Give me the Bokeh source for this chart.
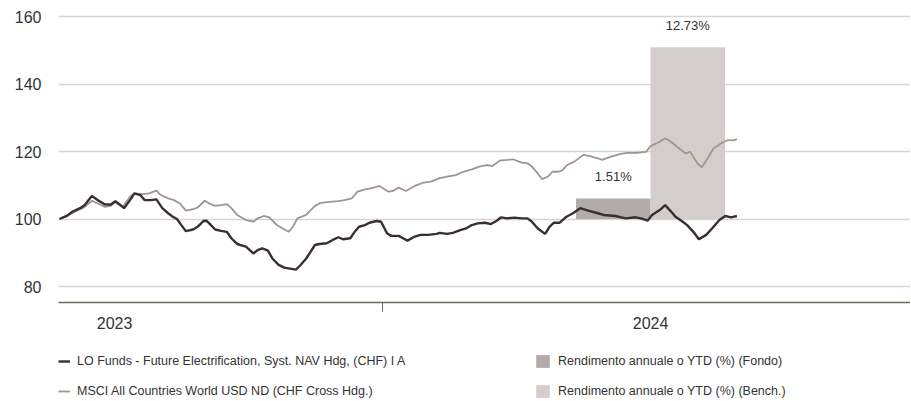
import datetime as dt
from bokeh.plotting import figure
from bokeh.layouts import column
from bokeh.models import FixedTicker, Legend, LegendItem, Range1d, ColumnDataSource
from bokeh.core.properties import value
from bokeh.embed import file_html
from bokeh.resources import INLINE

# ---------------- data ----------------
start_date = "2023-05-26"

fund_days = [0, 5, 9, 14, 17, 22, 26, 31, 35, 38, 41, 44, 48, 51, 55, 58, 62, 66, 70, 74,
             77, 80, 83, 86, 91, 94, 98, 100, 102, 106, 110, 114, 117, 121, 123, 127, 132, 135,
             138, 142, 145, 149, 153, 157, 161, 164, 168, 174, 177, 182, 186, 190, 193, 198,
             201, 204, 208, 211, 216, 219, 223, 226, 231, 234, 237, 242, 246, 251, 257, 259,
             264, 268, 273, 277, 281, 285, 290, 294, 298, 301, 305, 310, 315, 319, 322, 326,
             331, 334, 337, 341, 345, 350, 355, 361, 367, 371, 379, 386, 393, 398, 401, 404,
             410, 413, 417, 420, 425, 428, 433, 436, 441, 445, 450, 454, 458, 462]
fund_values = [100.0, 100.9, 102.2, 103.2, 104.1, 106.8, 105.6, 104.3, 104.3, 105.3, 104.3,
               103.2, 105.6, 107.6, 107.1, 105.6, 105.6, 105.8, 103.2, 101.7, 100.7, 100.0,
               98.2, 96.4, 96.9, 97.7, 99.4, 99.5, 98.7, 96.9, 96.5, 96.2, 94.3, 92.6, 92.3,
               91.8, 89.8, 90.8, 91.3, 90.6, 88.3, 86.5, 85.6, 85.3, 85.0, 86.3, 88.3, 92.3,
               92.6, 92.8, 93.8, 94.6, 94.0, 94.3, 96.2, 97.7, 98.2, 98.9, 99.4, 99.2, 95.8,
               95.0, 95.0, 94.3, 93.6, 94.8, 95.3, 95.3, 95.6, 95.9, 95.6, 95.9, 96.7, 97.2,
               98.2, 98.7, 98.9, 98.5, 99.5, 100.5, 100.2, 100.4, 100.2, 100.2, 99.2, 97.2,
               95.6, 97.7, 98.9, 98.9, 100.5, 101.7, 103.2, 102.4, 101.7, 101.2, 100.9, 100.2,
               100.5, 100.0, 99.5, 101.2, 102.9, 104.1, 102.2, 100.7, 99.2, 98.2, 95.8, 94.0,
               95.3, 97.2, 99.7, 100.9, 100.5, 100.9]

bench_days = [0, 9, 17, 22, 26, 31, 35, 38, 43, 48, 51, 57, 61, 66, 69, 74, 78, 82, 86, 91,
              94, 99, 102, 106, 110, 114, 117, 121, 127, 132, 135, 139, 143, 148, 152, 156,
              159, 162, 168, 174, 178, 184, 190, 194, 199, 203, 208, 212, 218, 224, 227, 231,
              236, 242, 248, 253, 259, 265, 270, 275, 281, 286, 291, 295, 300, 305, 309, 315,
              319, 322, 326, 329, 333, 336, 340, 343, 346, 351, 357, 361, 367, 370, 376, 382,
              387, 393, 400, 403, 408, 413, 417, 421, 427, 430, 435, 438, 442, 446, 451, 456,
              460, 462]
bench_values = [100.0, 101.9, 103.5, 105.4, 104.6, 103.6, 103.9, 105.0, 103.6, 106.6, 107.6,
                107.4, 107.6, 108.4, 107.1, 106.1, 105.6, 104.6, 102.5, 102.9, 103.4, 105.4,
                104.6, 103.9, 104.1, 104.4, 103.2, 101.2, 99.7, 99.2, 100.2, 100.9, 100.5,
                98.2, 97.2, 96.2, 97.7, 100.2, 101.2, 103.9, 104.8, 105.1, 105.3, 105.6, 106.1,
                108.1, 108.8, 109.1, 109.8, 108.1, 108.3, 109.3, 108.3, 109.8, 110.8, 111.1,
                112.1, 112.6, 113.0, 114.0, 114.7, 115.5, 116.0, 115.7, 117.3, 117.5, 117.7,
                116.7, 116.5, 115.5, 113.5, 111.8, 112.6, 114.0, 114.0, 114.5, 116.0, 117.0,
                119.0, 118.7, 118.0, 117.5, 118.5, 119.2, 119.6, 119.6, 119.9, 121.6, 122.6,
                123.9, 122.9, 121.4, 119.4, 119.9, 116.5, 115.3, 118.0, 120.9, 122.4, 123.4,
                123.3, 123.7]

ytd_year = 2024
ytd_returns = [1.51, 12.73]          # Fondo, Bench.
ytd_labels = ["1.51%", "12.73%"]
ytd_base = 100
ytd_scale = 4                        # index points per percent

y_ticks = [80, 100, 120, 140, 160]
year_ticks = [2023, 2024]

fund_name = "LO Funds - Future Electrification, Syst. NAV Hdg, (CHF) I A"
bench_name = "MSCI All Countries World USD ND (CHF Cross Hdg.)"
bar_fund_name = "Rendimento annuale o YTD (%) (Fondo)"
bar_bench_name = "Rendimento annuale o YTD (%) (Bench.)"

# ---------------- helpers ----------------
def frac_year(d):
    y0 = dt.date(d.year, 1, 1)
    n = (dt.date(d.year + 1, 1, 1) - y0).days
    return d.year + (d - y0).days / n

d0 = dt.date.fromisoformat(start_date)
fund_x = [frac_year(d0 + dt.timedelta(days=k)) for k in fund_days]
bench_x = [frac_year(d0 + dt.timedelta(days=k)) for k in bench_days]

# ---------------- colours / fonts ----------------
C_FUND = "#3a2f30"
C_BENCH = "#a0958f"
C_BAR_FUND = "#b1abaa"
C_BAR_BENCH = "#d3cecb"
C_TEXT = "#333333"
C_AXIS = "#6a6a5a"
FONT = "Liberation Sans"

W = 910
p = figure(width=W, height=337, output_backend="svg", toolbar_location=None,
           title=None,
           x_range=Range1d(fund_x[0] - 1 / 536, 2024.985),
           y_range=Range1d(75.26, 162.67),
           min_border_left=58, min_border_right=0, min_border_top=7,
           min_border_bottom=35)
p.outline_line_color = None
p.background_fill_color = "white"
p.border_fill_color = "white"

# bars (YTD)
bw = 0.139
mid = ytd_year + 0.5
bar_src = ColumnDataSource(dict(
    top=[ytd_base + ytd_scale * r for r in ytd_returns],
    xc=[mid - bw / 2, mid + bw / 2],
    lab=ytd_labels,
))
bar_f = dict(left=[mid - bw], right=[mid], bottom=[ytd_base],
             top=[ytd_base + ytd_scale * ytd_returns[0]])
bar_b = dict(left=[mid], right=[mid + bw], bottom=[ytd_base],
             top=[ytd_base + ytd_scale * ytd_returns[1]])
p.quad(**bar_f, fill_color=C_BAR_FUND, line_color=None)
p.quad(**bar_b, fill_color=C_BAR_BENCH, line_color=None)
p.text(x="xc", y="top", text="lab", source=bar_src, text_align="center",
       text_baseline="middle", y_offset=-22, text_font=value(FONT),
       text_font_size="13px", text_color=C_TEXT)

# lines
p.line(bench_x, bench_values, line_color=C_BENCH, line_width=1.8)
p.line(fund_x, fund_values, line_color=C_FUND, line_width=2.4)

# axes
xa = p.xaxis[0]
xa.ticker = FixedTicker(ticks=[y + 0.5 for y in year_ticks],
                        minor_ticks=[y + 1 for y in year_ticks])
xa.major_label_overrides = {y + 0.5: str(y) for y in year_ticks}
xa.major_tick_line_color = None
xa.major_tick_out = 0
xa.major_tick_in = 0
xa.minor_tick_out = 9
xa.minor_tick_in = 0
xa.minor_tick_line_color = C_AXIS
xa.minor_tick_line_width = 1
xa.axis_line_color = C_AXIS
xa.axis_line_width = 1.5
xa.major_label_standoff = 5
xa.major_label_text_font = FONT
xa.major_label_text_font_size = "16px"
xa.major_label_text_color = C_TEXT

ya = p.yaxis[0]
ya.ticker = FixedTicker(ticks=y_ticks)
ya.axis_line_color = None
ya.major_tick_line_color = None
ya.minor_tick_line_color = None
ya.major_tick_out = 0
ya.major_tick_in = 0
ya.major_label_standoff = 17
ya.major_label_text_font = FONT
ya.major_label_text_font_size = "16px"
ya.major_label_text_color = C_TEXT

p.xgrid.grid_line_color = None
p.ygrid.grid_line_color = "#d6d6d6"
p.ygrid.grid_line_width = 1.5

# ---------------- legend strip ----------------
lf = figure(width=W, height=62, output_backend="svg", toolbar_location=None,
            title=None, x_range=Range1d(0, 1), y_range=Range1d(0, 1),
            x_axis_type=None, y_axis_type=None,
            min_border_left=0, min_border_right=0, min_border_top=0,
            min_border_bottom=0)
lf.outline_line_color = None
lf.background_fill_color = "white"
lf.border_fill_color = "white"

# same series (out of this strip's visible range) -> used only as legend swatches
g_fund = lf.line(fund_x, fund_values, line_color=C_FUND, line_width=2.4)
g_bench = lf.line(bench_x, bench_values, line_color=C_BENCH, line_width=1.8)
g_bar_f = lf.quad(**bar_f, fill_color=C_BAR_FUND, line_color=None)
g_bar_b = lf.quad(**bar_b, fill_color=C_BAR_BENCH, line_color=None)

def mk_legend(items, loc, gw):
    return Legend(items=items, location=loc, orientation="vertical",
                  glyph_width=gw, glyph_height=16, label_height=16,
                  label_standoff=7, spacing=14, padding=0, margin=0,
                  border_line_color=None, background_fill_alpha=0,
                  label_text_font=FONT, label_text_font_size="12.5px",
                  label_text_color=C_TEXT)

lf.add_layout(mk_legend([LegendItem(label=fund_name, renderers=[g_fund]),
                         LegendItem(label=bench_name, renderers=[g_bench])], (0, 0), 12))
lf.add_layout(mk_legend([LegendItem(label=bar_fund_name, renderers=[g_bar_f]),
                         LegendItem(label=bar_bench_name, renderers=[g_bar_b])], (476, 0), 17))

layout = column(p, lf, spacing=0)
open("out.html", "w").write(file_html(layout, INLINE))
